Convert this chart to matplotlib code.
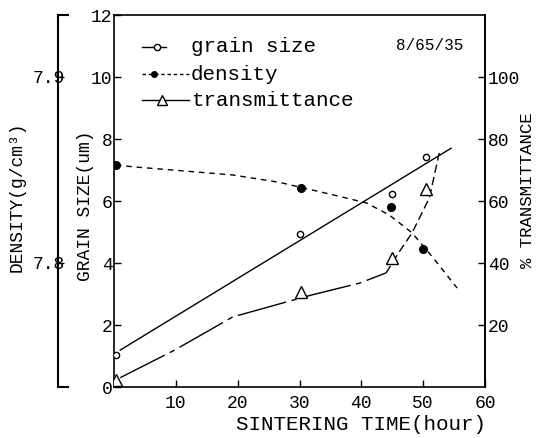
import matplotlib
matplotlib.use("Agg")
import matplotlib.pyplot as plt
from matplotlib.lines import Line2D

# ---------------- data ----------------
time_grain = [0.3, 30.0, 45.0, 50.5]
grain_size = [1.03, 4.93, 6.23, 7.42]
grain_fit_t = [1.0, 54.5]
grain_fit = [1.19, 7.70]

time_dens = [0.3, 30.3, 44.8, 49.9]
density = [7.8527, 7.8405, 7.8300, 7.8075]
dens_curve_t = [0.3, 3.0, 19.2, 26.8, 35.3, 40.8, 44.5, 48.2, 51.5, 55.5]
dens_curve = [7.8527, 7.8517, 7.8473, 7.8433, 7.8367, 7.8323, 7.8258, 7.8162, 7.8032, 7.7865]

time_trans = [0.3, 30.3, 45.0, 50.5]
transmittance = [2.3, 30.7, 41.6, 64.0]
trans_curve_t = [1.0, 9.8, 19.2, 28.9, 32.0, 39.7, 44.0, 46.1, 48.2, 51.0, 52.6]
trans_curve = [3.0, 11.9, 22.6, 28.0, 29.7, 33.5, 36.8, 43.5, 49.7, 61.0, 75.5]

x_ticks = [10, 20, 30, 40, 50, 60]
grain_ticks = [0, 2, 4, 6, 8, 10, 12]
trans_ticks = [20, 40, 60, 80, 100]
dens_ticks = [7.8, 7.9]
dens_tick_labels = ["7.8", "7.9"]
legend_labels = ["grain size", "density", "transmittance"]
title_text = "8/65/35"

FONT = "Liberation Mono"
plt.rcParams["font.family"] = [FONT, "DejaVu Sans"]

W, H = 537, 438
fig = plt.figure(figsize=(W / 100, H / 100), dpi=100)
ax = fig.add_axes([114 / W, 1 - 387 / H, (485 - 114) / W, (387 - 15) / H])

TRANS_LS = (0, (36, 4, 4, 4))
TRANS_LS_UPPER = (0, (6, 3))
DENS_LS = (0, (4, 3.5))

# grain size
ax.plot(grain_fit_t, grain_fit, color="black", lw=1.0, zorder=2)
ax.plot(time_grain, grain_size, linestyle="none", marker="o", ms=4.5,
        mfc="white", mec="black", mew=1.0, zorder=4)
ax.set_xlim(0, 60)
ax.set_ylim(0, 12)
ax.set_xticks(x_ticks)
ax.set_yticks(grain_ticks)
ax.tick_params(direction="in", length=5, width=1.0, labelsize=13)
ax.tick_params(axis="x", pad=6)
ax.tick_params(axis="y", pad=1)
for s in ax.spines.values():
    s.set_linewidth(1.2)
ax.set_xlabel("SINTERING TIME(hour)", fontsize=15)
ax.xaxis.set_label_coords((361 - 114) / 371, -(425 - 387) / 372)
ax.xaxis.label.set_va("center")
ax.set_ylabel("GRAIN SIZE(um)", fontsize=13)
ax.yaxis.set_label_coords((85 - 114) / 371, (387 - 206) / 372)
ax.yaxis.label.set_va("center")
ax.patch.set_alpha(0)

# transmittance (right)
axr = ax.twinx()
axr.set_ylim(0, 120)
split = 7  # the curve turns into short dashes where it bends upward
axr.plot(trans_curve_t[:split], trans_curve[:split], color="black", lw=1.0,
         linestyle=TRANS_LS, zorder=2)
axr.plot(trans_curve_t[split - 1:], trans_curve[split - 1:], color="black", lw=1.0,
         linestyle=TRANS_LS_UPPER, zorder=2)
axr.plot(time_trans, transmittance, linestyle="none", marker="^", ms=8,
         mfc="white", mec="black", mew=1.0, zorder=4)
axr.set_yticks(trans_ticks)
axr.tick_params(direction="in", length=5, width=1.0, labelsize=13, pad=2)
axr.set_ylabel("% TRANSMITTANCE", fontsize=12.5)
axr.yaxis.set_label_coords((527 - 114) / 371, (387 - 190) / 372)
axr.yaxis.label.set_va("center")
for s in axr.spines.values():
    s.set_visible(False)
axr.spines["right"].set_visible(True)
axr.spines["right"].set_linewidth(1.2)

# density (far left)
axd = ax.twinx()
axd.set_ylim(7.7333, 7.9333)
axd.plot(dens_curve_t, dens_curve, color="black", lw=1.0,
         linestyle=DENS_LS, zorder=2)
axd.plot(time_dens, density, linestyle="none", marker="o", ms=5.5,
         mfc="black", mec="black", zorder=4)
for s in axd.spines.values():
    s.set_visible(False)
axd.spines["left"].set_visible(True)
axd.spines["left"].set_position(("axes", (58 - 114) / (485 - 114)))
axd.spines["left"].set_linewidth(1.5)
axd.yaxis.set_ticks_position("left")
axd.set_yticks(dens_ticks)
axd.set_yticklabels(dens_tick_labels)
axd.tick_params(axis="y", direction="in", length=4, width=1.0, labelsize=13, pad=-5)
axd.set_yticks([7.7333, 7.9333], minor=True)
axd.tick_params(axis="y", which="minor", direction="in", length=8, width=1.5)
axd.set_ylabel("DENSITY(g/cm³)", fontsize=13)
axd.yaxis.set_label_position("left")
axd.yaxis.set_label_coords((17 - 114) / 371, (387 - 197) / 372)
axd.yaxis.label.set_va("center")

# title text
fig.text(396 / W, 1 - 45 / H, title_text, fontsize=11.5, va="center", ha="left")

# legend (drawn in the style of the original)
leg = [
    dict(y=47, x1=166, mx=157, ls="-", marker="o", ms=4.5, mfc="white"),
    dict(y=74, x1=189, mx=154, ls=(0, (2.5, 2)), marker="o", ms=4, mfc="black"),
    dict(y=100, x1=189, mx=162, ls="-", marker="^", ms=7, mfc="white"),
]
for item, label in zip(leg, legend_labels):
    yf = 1 - item["y"] / H
    fig.add_artist(Line2D([142 / W, item["x1"] / W], [yf, yf], color="black", lw=1.0,
                          linestyle=item["ls"], transform=fig.transFigure))
    fig.add_artist(Line2D([item["mx"] / W], [yf], marker=item["marker"], ms=item["ms"],
                          mfc=item["mfc"], mec="black", mew=1.0, linestyle="none",
                          transform=fig.transFigure))
    fig.text(191 / W, yf, label, fontsize=15, va="center", ha="left")

fig.savefig("out.png", dpi=100)
